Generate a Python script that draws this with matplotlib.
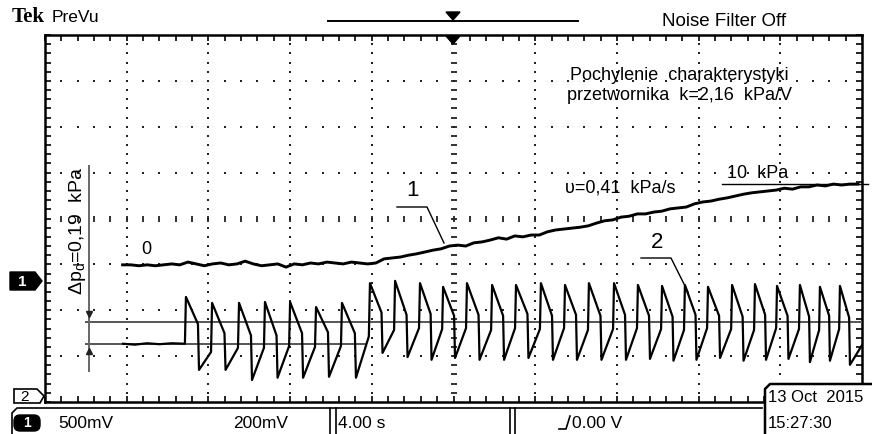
import numpy as np
import matplotlib.pyplot as plt
from matplotlib.patches import Polygon, FancyBboxPatch, Rectangle

plt.rcParams['mathtext.default'] = 'regular'

# screen: 10 div x 4.00 s, 8 div vertically (levels in divisions)
t_max = 40.0

# channel 1 - pressure, sampled every 0.4 s from 3.8 s
ch1_t0 = 3.8
ch1_dt = 0.4
ch1_lvl = [-1.01, -1.01, -1.03, -1.01, -1.03, -1.01, -0.99, -1.01, -0.95, -0.99,
           -1.03, -0.99, -0.97, -1.01, -0.99, -0.93, -0.99, -1.03, -1.01, -0.99,
           -1.06, -0.99, -1.01, -0.97, -0.99, -0.95, -0.97, -0.99, -0.95, -0.97,
           -0.99, -0.97, -0.88, -0.86, -0.84, -0.80, -0.77, -0.73, -0.69, -0.66,
           -0.60, -0.58, -0.60, -0.53, -0.51, -0.47, -0.42, -0.45, -0.38, -0.40,
           -0.36, -0.36, -0.29, -0.25, -0.23, -0.21, -0.19, -0.16, -0.10, -0.05,
           -0.03, 0.03, 0.05, 0.10, 0.10, 0.14, 0.16, 0.21, 0.23, 0.25,
           0.32, 0.36, 0.38, 0.42, 0.45, 0.49, 0.53, 0.56, 0.58, 0.60,
           0.62, 0.66, 0.64, 0.69, 0.69, 0.73, 0.71, 0.75, 0.73, 0.75,
           0.75]

# channel 2 - flat part before the oscillation starts
ch2_flat_t = [3.82, 4.4, 5.0, 5.6, 6.2, 6.85]
ch2_flat_lvl = [-2.73, -2.75, -2.72, -2.74, -2.72, -2.73]

# channel 2 - one entry per oscillation cycle
peak_t = [6.90, 8.18, 9.50, 10.77, 12.00, 13.27, 14.54, 15.91, 17.14, 18.36,
          19.49, 20.66, 21.89, 23.06, 24.28, 25.46, 26.63, 27.86, 29.03, 30.21,
          31.33, 32.46, 33.64, 34.76, 35.84, 36.96, 37.94, 38.92]
peak_lvl = [-1.71, -1.84, -1.84, -1.82, -1.82, -1.93, -1.84,
            -1.41, -1.36, -1.41, -1.49, -1.41, -1.45, -1.45, -1.41, -1.45, -1.41,
            -1.41, -1.45, -1.47, -1.45, -1.49, -1.45, -1.43, -1.47, -1.45, -1.49, -1.47]
knee_lvl = [-2.30, -2.50, -2.55, -2.55, -2.50, -2.48, -2.50,
            -2.05, -2.10, -2.08, -2.12, -2.10, -2.12, -2.08, -2.12, -2.10, -2.12,
            -2.10, -2.12, -2.14, -2.10, -2.12, -2.14, -2.10, -2.12, -2.14, -2.12, -2.16]
trough_lvl = [-3.30, -3.30, -3.52, -3.47, -3.47, -3.45, -3.47,
              -2.93, -3.02, -3.08, -3.04, -3.08, -3.08, -3.04, -3.08, -3.08, -3.08,
              -3.08, -3.06, -3.10, -3.08, -3.04, -3.10, -3.08, -3.06, -3.13, -3.10, -3.19]
pre_lvl = [-2.91, -2.82, -2.82, -2.78, -2.80, -2.78, -2.57,
           -2.43, -2.39, -2.41, -2.39, -2.43, -2.39, -2.41, -2.39, -2.43, -2.41,
           -2.39, -2.41, -2.43, -2.39, -2.41, -2.43, -2.39, -2.41, -2.43, -2.41, -2.76]

# cursors
cur_hi = -2.25
cur_lo = -2.73
cur_t = 2.15

sans = ['Liberation Sans', 'DejaVu Sans']

fig = plt.figure(figsize=(8.72, 4.34), dpi=100)

# graticule
ax = fig.add_axes([45 / 872, 32 / 434, 817 / 872, 367 / 434])
ax.set_xlim(0, t_max)
ax.set_ylim(-4, 4)
ax.patch.set_alpha(0)
for s in ax.spines.values():
    s.set_linewidth(1.8)
ax.set_xticks(np.arange(0, 40.1, 4))
ax.set_xticks(np.arange(0, 40.1, 0.8), minor=True)
ax.set_yticks(np.arange(-4, 4.1, 1))
ax.set_yticks(np.arange(-4, 4.1, 0.2), minor=True)
ax.tick_params(which='both', direction='in', length=4, width=1.2,
               top=True, right=True, labelbottom=False, labelleft=False)

dot_y = np.arange(-3.8, 3.9, 0.2)
dot_t = np.arange(0.8, 39.3, 0.8)
for tx in np.arange(4, 37, 4):
    if tx != 20:
        ax.plot([tx] * len(dot_y), dot_y, 's', ms=1.6, color='#222', mew=0)
for yy in range(-3, 4):
    if yy != 0:
        ax.plot(dot_t, [yy] * len(dot_t), 's', ms=1.6, color='#222', mew=0)
# centre cross with minor ticks
ax.plot([20] * len(dot_y), dot_y, '_', ms=5, mew=1.3, color='#222')
ax.plot(dot_t, [0] * len(dot_t), '|', ms=5, mew=1.3, color='#222')

# cursors
ax.hlines(cur_hi, 1.96, t_max, color='#555', lw=1.4, zorder=3)
ax.hlines(cur_lo, 1.96, 15.7, color='#555', lw=1.4, zorder=3)
ax.vlines(cur_t, -3.35, 1.17, color='#666', lw=1.4, zorder=3)
ax.plot([cur_t], [cur_hi + 0.16], 'v', ms=5, color='#222', zorder=4)
ax.plot([cur_t], [cur_lo - 0.16], '^', ms=5, color='#222', zorder=4)

# channel 1
t1 = ch1_t0 + ch1_dt * np.arange(len(ch1_lvl))
ax.plot(t1, ch1_lvl, color='black', lw=2.1, zorder=5)

# channel 2
t2 = list(ch2_flat_t)
v2 = list(ch2_flat_lvl)
for i, p in enumerate(peak_t):
    period = (peak_t[i + 1] - p) if i + 1 < len(peak_t) else (p - peak_t[i - 1])
    t2 += [p, p + 0.46 * period, p + 0.5 * period]
    v2 += [peak_lvl[i], knee_lvl[i], trough_lvl[i]]
    t2.append(p + 0.96 * period if i + 1 < len(peak_t) else t_max)
    v2.append(pre_lvl[i])
ax.plot(t2, v2, color='black', lw=1.6, zorder=5)

# overlay in pixel units for the scope frame and status bar, drawn above the graticule
ov = fig.add_axes([0, 0, 1, 1])
ov.set_xlim(0, 872)
ov.set_ylim(434, 0)
ov.axis('off')
ov.set_zorder(ax.get_zorder() + 1)

# header
ov.text(12, 17, 'Tek', family='Liberation Serif', weight='bold', fontsize=15, va='center')
ov.text(52, 18, 'PreVu', family=sans, fontsize=12.5, va='center')
ov.text(662, 22, 'Noise Filter Off', family=sans, fontsize=13.5, va='center')
ov.plot([328, 578], [21, 21], color='black', lw=1.4)
ov.add_patch(Polygon([[446, 12], [460, 12], [453, 20]], color='black'))
ov.add_patch(Polygon([[446, 36], [460, 36], [453, 44]], color='black'))

# channel markers
ov.add_patch(Polygon([[10, 272], [35, 272], [42, 281], [35, 290], [10, 290]], color='black'))
ov.text(22, 281.5, '1', color='white', weight='bold', family=sans, fontsize=11,
        ha='center', va='center')
ov.add_patch(Polygon([[14, 403], [14, 389], [37, 389], [44, 396], [40, 403]],
                     fill=False, ec='black', lw=1.2))
ov.text(24, 397, '2', family=sans, fontsize=11, ha='center', va='center')

# annotations
ov.text(77, 231, r'$\Delta$p$_d$=0,19  kPa', rotation=90, family=sans, fontsize=14,
        ha='center', va='center')
ov.text(146, 250, '0', family=sans, fontsize=13, ha='center', va='center')
ov.text(412, 191, '1', family=sans, fontsize=16, ha='center', va='center')
ov.plot([397, 427, 444], [207, 207, 243], color='black', lw=1)
ov.text(657, 243, '2', family=sans, fontsize=16, ha='center', va='center')
ov.plot([641, 671, 688], [258, 258, 292], color='black', lw=1)
ov.text(620, 188, 'υ=0,41  kPa/s', family=sans, fontsize=13, ha='center', va='center')
ov.text(758, 173, '10  kPa', family=sans, fontsize=13, ha='center', va='center')
ov.plot([722, 868], [184, 184], color='black', lw=1)
ov.text(679, 75, 'Pochylenie  charakterystyki', family=sans, fontsize=13,
        ha='center', va='center')
ov.text(679, 95, 'przetwornika  k=2,16  kPa/V', family=sans, fontsize=13,
        ha='center', va='center')

# status bar
ov.plot([12, 12, 17, 762], [434, 413, 408, 408], color='black', lw=1.2)
ov.plot([330, 330], [408, 434], color='black', lw=1.2)
ov.plot([336, 336], [408, 434], color='black', lw=1.2)
ov.plot([510, 510], [408, 434], color='black', lw=1.2)
ov.plot([515, 515], [408, 434], color='black', lw=1.2)
ov.add_patch(Rectangle((765, 384), 107, 50, color='white'))
ov.plot([765, 765, 770, 872], [434, 389, 384, 384], color='black', lw=1.8)
ov.add_patch(FancyBboxPatch((14, 415), 26, 16, boxstyle='round,pad=0,rounding_size=6',
                            color='black'))
ov.text(27, 423, '1', color='white', weight='bold', family=sans, fontsize=10,
        ha='center', va='center')
ov.text(58, 423, '500mV', family=sans, fontsize=12.5, va='center')
ov.text(233, 423, '200mV', family=sans, fontsize=12.5, va='center')
ov.text(338, 423, '4.00 s', family=sans, fontsize=12.5, va='center')
ov.plot([559, 566, 570], [429, 429, 416], color='black', lw=1.2)
ov.text(572, 423, '0.00 V', family=sans, fontsize=12.5, va='center')
ov.text(768, 398, '13 Oct  2015', family=sans, fontsize=12, va='center')
ov.text(768, 423, '15:27:30', family=sans, fontsize=12, va='center')

fig.savefig('out.png', dpi=100)
